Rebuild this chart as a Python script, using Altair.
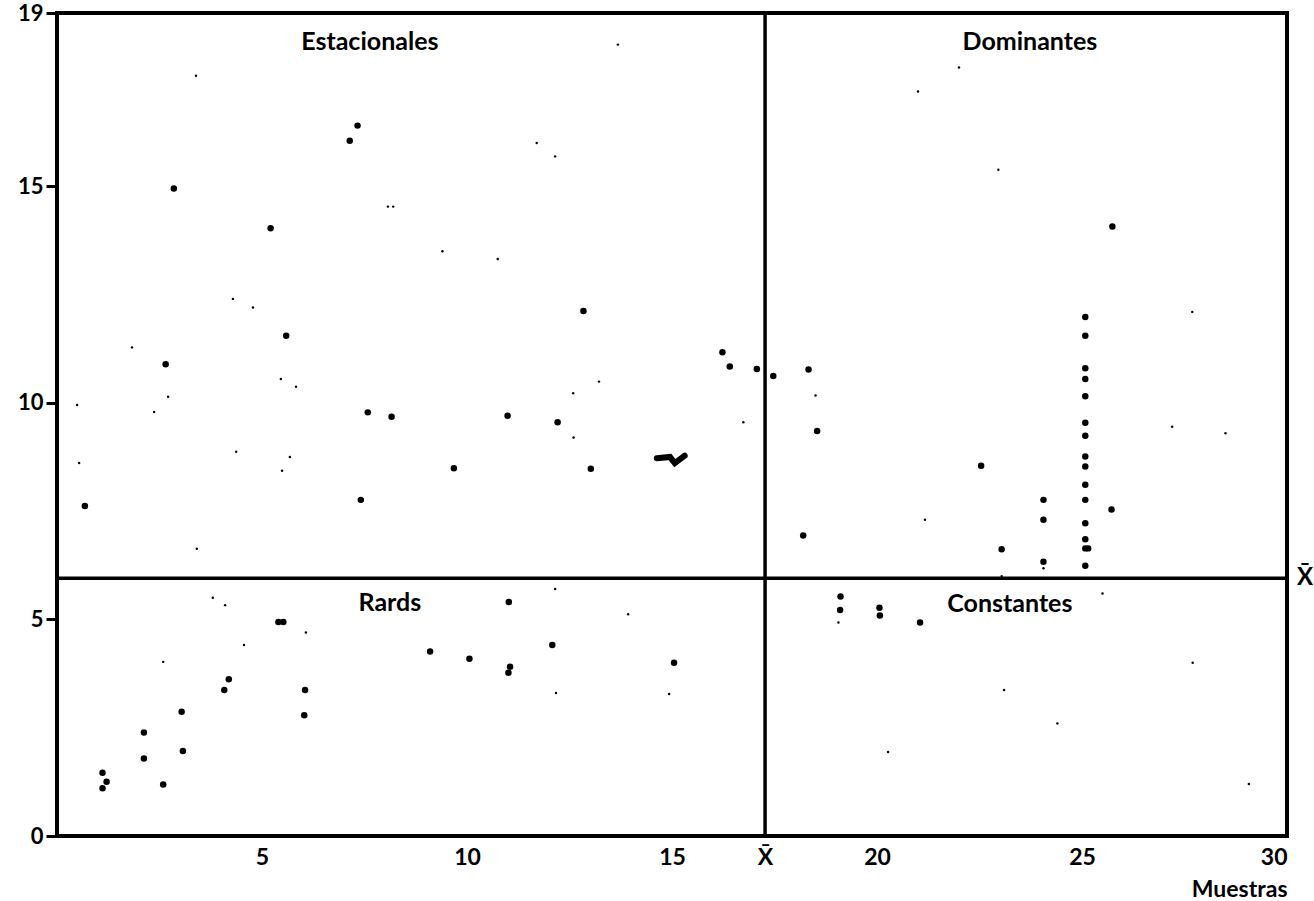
import altair as alt
import pandas as pd

# Large black dots (species points)
big_x = [1.11, 1.21, 1.11, 2.12, 2.12, 2.59, 3.04, 3.07, 4.08, 4.19, 5.40, 5.52, 6.05, 6.03,
         9.10, 10.06, 11.02, 11.05, 11.01, 12.08, 15.05,
         19.11, 19.10, 20.06, 20.07, 21.05,
         25.08, 25.08, 25.08, 25.08, 25.08, 25.08, 25.08, 25.08, 25.08, 25.08, 25.08, 25.08,
         25.08, 25.08, 25.15, 25.08,
         24.06, 24.06, 24.06, 23.04, 25.72, 22.54, 18.33, 18.54, 18.20, 17.47, 25.74,
         2.85, 5.21, 7.33, 7.14, 12.84, 2.65, 0.68, 7.41, 7.58, 8.16, 10.99, 12.21, 9.68,
         13.02, 16.23, 16.41, 17.07, 5.59]
big_y = [1.46, 1.25, 1.10, 2.39, 1.79, 1.19, 2.87, 1.96, 3.37, 3.62, 4.94, 4.94, 3.37, 2.79,
         4.26, 4.09, 5.40, 3.91, 3.77, 4.41, 4.00,
         5.53, 5.22, 5.27, 5.09, 4.93,
         11.98, 11.55, 10.80, 10.55, 10.15, 9.54, 9.24, 8.76, 8.53, 8.11, 7.76, 7.22,
         6.85, 6.64, 6.64, 6.24,
         7.76, 7.30, 6.33, 6.62, 7.54, 8.55, 10.77, 9.35, 6.94, 10.62, 14.07,
         14.95, 14.03, 16.40, 16.05, 12.12, 10.89, 7.62, 7.76, 9.78, 9.68, 9.70, 9.55, 8.49,
         8.48, 11.17, 10.84, 10.78, 11.55]

# Small specks
small_x = [6.07, 13.93, 12.15, 19.06, 18.50, 16.74, 21.17, 23.04, 24.06, 1.83, 3.39, 12.15,
           10.75, 8.07, 8.20, 12.60, 12.59, 13.22, 13.68, 22.96, 22.00, 21.00, 27.69, 28.50,
           27.20, 9.40, 11.70, 2.59, 4.56, 3.80, 4.10, 20.27, 23.10, 24.40, 27.70, 29.07,
           25.50, 12.17, 14.93, 0.49, 0.54, 4.37, 5.49, 5.68, 3.41, 2.37, 2.71, 5.46, 5.83,
           4.29, 4.78]
small_y = [4.70, 5.12, 5.70, 4.93, 10.17, 9.55, 7.30, 6.00, 6.18, 11.28, 17.55, 15.69,
           13.32, 14.53, 14.53, 9.20, 10.22, 10.49, 18.27, 15.38, 17.74, 17.19, 12.10, 9.30,
           9.45, 13.50, 16.00, 4.02, 4.41, 5.50, 5.33, 1.94, 3.37, 2.60, 4.00, 1.20,
           5.60, 3.30, 3.28, 9.95, 8.61, 8.87, 8.43, 8.75, 6.63, 9.79, 10.14, 10.55, 10.37,
           12.40, 12.20]

# Ink stroke
trazo_x = [14.63, 14.95, 15.07, 15.31]
trazo_y = [8.72, 8.75, 8.61, 8.78]

# Means
x_mean = 17.27
y_mean = 5.95

quad_names = ["Estacionales", "Dominantes", "Rards", "Constantes"]
quad_x = [7.63, 23.73, 8.12, 23.24]
quad_y = [18.34, 18.34, 5.38, 5.36]

x_ticks = [5, 10, 15, x_mean, 20, 25, 30]
y_ticks = [0, 5, 10, 15, 19]

FONT = "Lato"

big = pd.DataFrame({"x": big_x, "y": big_y})
small = pd.DataFrame({"x": small_x, "y": small_y})
trazo = pd.DataFrame({"x": trazo_x, "y": trazo_y, "o": list(range(len(trazo_x)))})
quads = pd.DataFrame({"x": quad_x, "y": quad_y, "t": quad_names})

xs = alt.Scale(domain=[0, 30], nice=False, zero=False)
ys = alt.Scale(domain=[0, 19], nice=False, zero=False)

x_axis = alt.Axis(values=x_ticks,
                  labelExpr=f"datum.value == {x_mean} ? 'X\u0304' : datum.label",
                  ticks=False, domain=False, grid=False,
                  labelFont=FONT, labelFontSize=23, labelFontWeight="bold",
                  labelColor="black", labelPadding=10, labelFlush=True,
                  title="Muestras", titleFont=FONT,
                  titleFontSize=23, titleFontWeight="bold", titleColor="black",
                  titleX=1230, titleY=60, titleAlign="right", titleBaseline="alphabetic")
y_axis = alt.Axis(values=y_ticks, domain=False, grid=False,
                  tickSize=11, tickWidth=3, tickColor="black",
                  labelFont=FONT, labelFontSize=22, labelFontWeight="bold",
                  labelColor="black", labelPadding=3)

pts = alt.Chart(big).mark_circle(color="black", opacity=1, size=42).encode(
    x=alt.X("x:Q", scale=xs, axis=x_axis),
    y=alt.Y("y:Q", scale=ys, axis=y_axis, title=None),
)
specks = alt.Chart(small).mark_circle(color="black", opacity=1, size=6).encode(
    x=alt.X("x:Q", scale=xs), y=alt.Y("y:Q", scale=ys))
stroke = alt.Chart(trazo).mark_line(color="black", strokeWidth=6, strokeCap="round").encode(
    x=alt.X("x:Q", scale=xs), y=alt.Y("y:Q", scale=ys), order="o:Q")

vline = alt.Chart(pd.DataFrame({"x": [x_mean]})).mark_rule(color="black", strokeWidth=3.5).encode(
    x=alt.X("x:Q", scale=xs))
hline = alt.Chart(pd.DataFrame({"y": [y_mean]})).mark_rule(color="black", strokeWidth=3.5).encode(
    y=alt.Y("y:Q", scale=ys))
ylab = alt.Chart(pd.DataFrame({"y": [y_mean], "t": ["X\u0304"]})).mark_text(
    font=FONT, fontSize=24, fontWeight="bold", color="black", align="center", baseline="middle"
).encode(x=alt.value(1248), y=alt.Y("y:Q", scale=ys), text="t:N")

labels = alt.Chart(quads).mark_text(
    font=FONT, fontSize=25, fontWeight="bold", color="black", align="center", baseline="middle"
).encode(x=alt.X("x:Q", scale=xs), y=alt.Y("y:Q", scale=ys), text="t:N")

chart = alt.layer(vline, hline, specks, pts, stroke, labels, ylab).properties(
    width=1230, height=823,
    padding={"left": 57, "top": 13, "right": 27, "bottom": 65},
    autosize=alt.AutoSizeParams(type="none"),
    background="white",
).configure_view(stroke="black", strokeWidth=4)

chart.save("out.html", embed_options={"renderer": "svg", "actions": False})
